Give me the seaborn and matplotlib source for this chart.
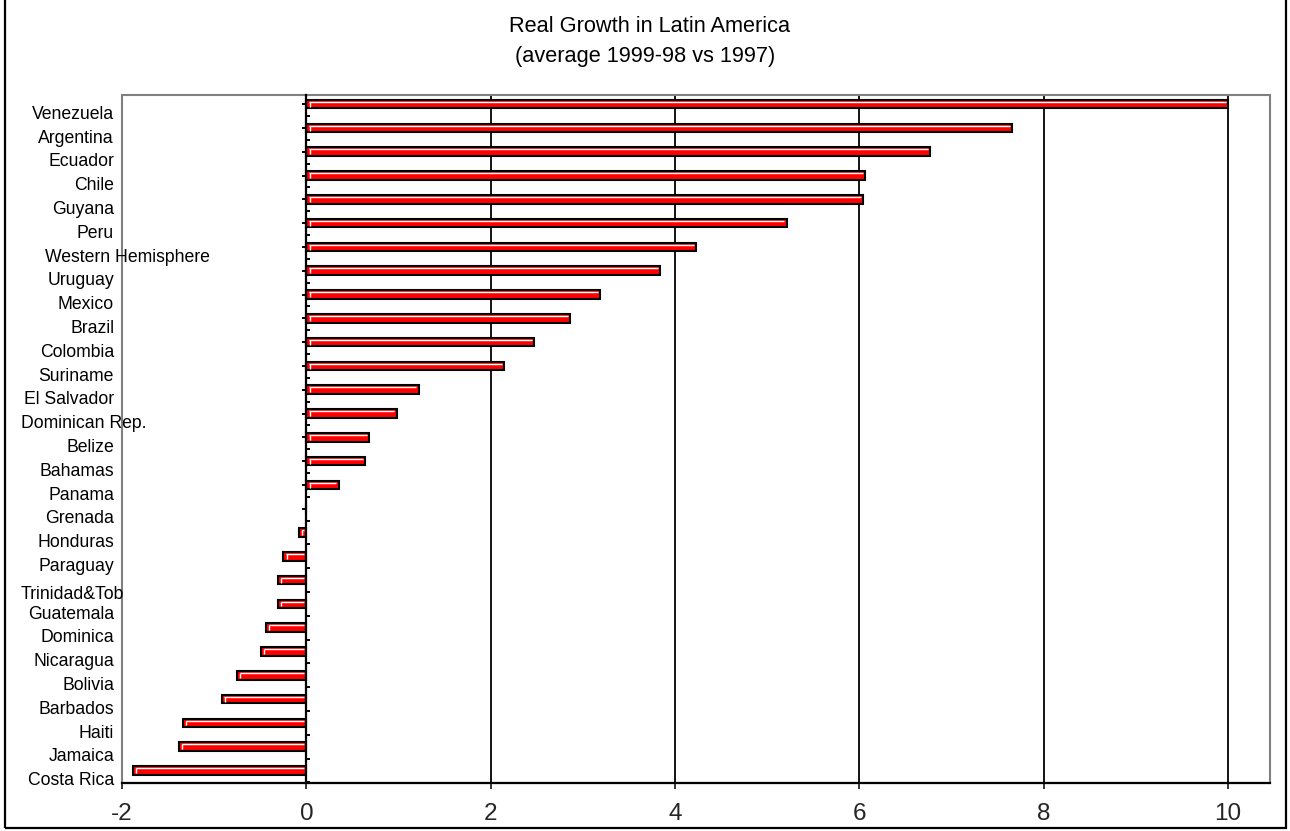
import matplotlib
matplotlib.use("Agg")
import matplotlib.pyplot as plt
import matplotlib.transforms as mtransforms
from matplotlib.patches import Rectangle
from matplotlib.ticker import FixedLocator
import seaborn as sns
import pandas as pd

# ---------------- data ----------------
countries = ["Venezuela", "Argentina", "Ecuador", "Chile", "Guyana", "Peru",
             "Western Hemisphere", "Uruguay", "Mexico", "Brazil", "Colombia",
             "Suriname", "El Salvador", "Dominican Rep.", "Belize", "Bahamas",
             "Panama", "Grenada", "Honduras", "Paraguay", "Trinidad&Tob",
             "Guatemala", "Dominica", "Nicaragua", "Bolivia", "Barbados",
             "Haiti", "Jamaica", "Costa Rica"]
growth = [10.0, 7.66, 6.77, 6.06, 6.04, 5.21,
          4.23, 3.84, 3.19, 2.86, 2.47,
          2.15, 1.22, 0.98, 0.68, 0.64,
          0.35, 0.0, -0.08, -0.25, -0.31,
          -0.31, -0.44, -0.49, -0.75, -0.92,
          -1.34, -1.38, -1.88]
x_ticks = [-2, 0, 2, 4, 6, 8, 10]
title_line1 = "Real Growth in Latin America"
title_line2 = "(average 1999-98 vs 1997)"

# label placement tweaks (style only)
label_left_aligned = {"Western Hemisphere": 45, "Dominican Rep.": 21, "Trinidad&Tob": 21}
label_dy = {"Trinidad&Tob": 0.62}

df = pd.DataFrame({"country": countries, "growth": growth})

sns.set_theme(style="white")
plt.rcParams["font.family"] = ["Liberation Sans", "DejaVu Sans"]
plt.rcParams["axes.unicode_minus"] = False

W, H = 1290, 831
fig = plt.figure(figsize=(W / 100, H / 100), dpi=100)
fig.patch.set_facecolor("white")
ax = fig.add_axes([122 / W, 1 - 782.5 / H, (1270 - 122) / W, (782.5 - 95) / H])
ax.set_facecolor("white")

sns.barplot(data=df, x="growth", y="country", orient="h", order=countries,
            color="#FF0000", saturation=1, width=0.36,
            edgecolor="black", linewidth=1.5, ax=ax, zorder=3)

# white 3D highlight on each bar (top & left inner edge)
for p in ax.patches:
    x0, y0, w, h = p.get_x(), p.get_y(), p.get_width(), p.get_height()
    if abs(w) < 1e-9:
        continue
    xl, xr = min(x0, x0 + w), max(x0, x0 + w)
    yt = min(y0, y0 + h)
    yb = max(y0, y0 + h)
    ax.plot([xl + 0.03, xr - 0.025], [yt + 0.085, yt + 0.085], color="white", lw=1.0, zorder=4,
            solid_capstyle="butt")
    ax.plot([xl + 0.035, xl + 0.035], [yt + 0.085, yb - 0.07], color="white", lw=1.0, zorder=4,
            solid_capstyle="butt")

ax.set_xlim(-2, 10.456)
ax.set_ylim(len(countries) - 1 + 0.507, -0.385)

# spines: y axis at 0 black, bottom black, frame gray
for s in ["top", "right"]:
    ax.spines[s].set_visible(False)
ax.spines["left"].set_position(("data", 0))
ax.spines["left"].set_color("black")
ax.spines["left"].set_linewidth(1.6)
ax.spines["left"].set_zorder(5)
ax.spines["bottom"].set_color("black")
ax.spines["bottom"].set_linewidth(1.6)
ax.spines["bottom"].set_zorder(6)
frame = Rectangle((0, 0), 1, 1, transform=ax.transAxes, fill=False,
                  edgecolor="#808080", linewidth=1.5, zorder=2, clip_on=False)
ax.add_patch(frame)

# gridlines
ax.xaxis.set_major_locator(FixedLocator(x_ticks))
ax.grid(axis="x", color="black", linewidth=1.3, zorder=1)
ax.set_axisbelow(True)
for t, gl in zip(x_ticks, ax.xaxis.get_gridlines()):
    if t in (-2, 0):
        gl.set_visible(False)

ax.tick_params(axis="x", which="major", direction="out", length=4, width=1.1,
               color="black", labelsize=17.5, pad=11, bottom=True)
ax.set_xlabel("")
ax.set_ylabel("")

# y ticks
ax.yaxis.set_major_locator(FixedLocator(range(len(countries))))
ax.yaxis.set_minor_locator(FixedLocator([i + 0.5 for i in range(len(countries))]))
ax.tick_params(axis="y", which="major", direction="out", length=3, width=1.4,
               color="black", left=True, labelleft=False)
ax.tick_params(axis="y", which="minor", direction="in", length=3, width=1.4,
               color="black", left=True, labelleft=False)

# category labels
trans = mtransforms.blended_transform_factory(fig.transFigure, ax.transData)
for i, c in enumerate(countries):
    dy = label_dy.get(c, 0.43)
    if c in label_left_aligned:
        ax.text(label_left_aligned[c] / W, i + dy, c, transform=trans, ha="left",
                va="center", fontsize=12.7, color="black", clip_on=False, zorder=7)
    else:
        ax.text(114 / W, i + dy, c, transform=trans, ha="right",
                va="center", fontsize=12.7, color="black", clip_on=False, zorder=7)

# titles
fig.text(649.7 / W, 1 - 31.7 / H, title_line1, ha="center", va="baseline",
         fontsize=15.7, color="black")
fig.text(645 / W, 1 - 61.7 / H, title_line2, ha="center", va="baseline",
         fontsize=15.7, color="black")

# outer border
border = Rectangle((5 / W, 3 / H), 1281 / W, 1.0, transform=fig.transFigure,
                   fill=False, edgecolor="black", linewidth=1.6, clip_on=False)
fig.patches.append(border)

fig.savefig("out.png", dpi=100)
